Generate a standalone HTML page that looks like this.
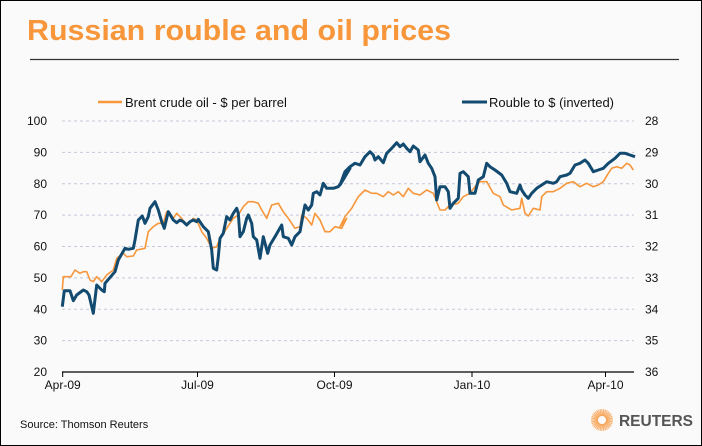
<!DOCTYPE html>
<html><head><meta charset="utf-8"><style>
html,body{margin:0;padding:0}
body{width:702px;height:446px;overflow:hidden;background:#fafafa;font-family:"Liberation Sans",sans-serif}
#f{position:absolute;left:0;top:0;width:700px;height:444px;border:1px solid #000;background:#fafafa}
</style></head><body><div id="f"></div>
<svg id="s" width="702" height="446" style="position:absolute;left:0;top:0" font-family="Liberation Sans, sans-serif">
<text x="27" y="40" font-size="29" font-weight="bold" fill="#f7963a" textLength="424" lengthAdjust="spacingAndGlyphs">Russian rouble and oil prices</text>
<line x1="30" y1="59.5" x2="679" y2="59.5" stroke="#333" stroke-width="1.2"/>
<line x1="98" y1="102" x2="122" y2="102" stroke="#f7963a" stroke-width="2.5"/>
<text x="125" y="107" font-size="13" fill="#111">Brent crude oil - $ per barrel</text>
<line x1="462" y1="102" x2="487" y2="102" stroke="#124a70" stroke-width="3"/>
<text x="489" y="107" font-size="13" fill="#111">Rouble to $ (inverted)</text>
<g id="grid"></g>
<path id="po" fill="none" stroke="#f7963a" stroke-width="1.6" stroke-linejoin="round"/>
<path id="pb" fill="none" stroke="#124a70" stroke-width="3" stroke-linejoin="round"/>
<line x1="62" y1="372" x2="634" y2="372" stroke="#000" stroke-width="1.2"/>
<text x="20" y="428" font-size="11" fill="#111">Source: Thomson Reuters</text>
<g transform="translate(602,420)" id="logo"></g>
<text x="619" y="426" font-size="16" font-weight="bold" fill="#555" textLength="74" lengthAdjust="spacingAndGlyphs">REUTERS</text>
</svg>
<script>
var ns="http://www.w3.org/2000/svg",g=document.getElementById("grid");
function el(t,a,p){var e=document.createElementNS(ns,t);for(var k in a)e.setAttribute(k,a[k]);(p||g).appendChild(e);return e;}
for(var i=0;i<=8;i++){var y=121+i*31.375,v=100-i*10,r=28+i;
 if(i<8)el("line",{x1:62,x2:634,y1:y,y2:y,stroke:"#c5c8dc","stroke-dasharray":"3,3"});
 var t=el("text",{x:47,y:y+4,"font-size":12,"text-anchor":"end",fill:"#111"});t.textContent=v;
 var t2=el("text",{x:645,y:y+4,"font-size":12,fill:"#111"});t2.textContent=r;}
var tk=[[62.7,"Apr-09"],[197.5,"Jul-09"],[334.5,"Oct-09"],[472,"Jan-10"],[605.5,"Apr-10"]];
tk.forEach(function(a){el("line",{x1:a[0],x2:a[0],y1:372,y2:377,stroke:"#000"});var t=el("text",{x:a[0],y:389,"font-size":12,"text-anchor":"middle",fill:"#111"});t.textContent=a[1];});
var lg=document.getElementById("logo");
for(var k=0;k<36;k++){var an=k*Math.PI/18;el("line",{x1:4*Math.cos(an),y1:4*Math.sin(an),x2:11*Math.cos(an),y2:11*Math.sin(an),stroke:"#f7963a","stroke-width":1.1,opacity:0.75},lg);}
function P(a,ox,oy){return a.map(function(p){return [ox+p[0]/3,oy+p[1]/3];});}
var b1=[[22,530],[28,482],[45,482],[55,512],[65,495],[85,480],[95,485],[102,495],[115,550],[125,465],[140,480],[148,485],[150,460],[180,425],[190,390],[210,355],[220,358],[235,355],[240,330],[250,270],[262,258],[270,280],[280,260],[285,235],[300,215],[310,240],[320,275],[328,295],[340,245],[355,270],[365,278],[375,270],[385,275],[395,285],[405,275],[415,270],[425,275],[430,268],[445,290],[460,305],[470,360],[475,415],[485,420],[490,380],[495,325],[505,310],[515,260],[525,270],[535,250],[545,235],[550,250],[555,320],[565,305],[575,265],[580,255],[590,280],[595,320],[605,330],[615,385],[625,320],[630,340],[638,370],[645,345],[660,320],[680,285],[685,320],[700,325],[710,345],[720,320],[735,305],[745,250],[750,225],[760,240],[770,225],[775,190],[785,185],[795,195],[805,160],[815,175],[835,175],[850,170],[860,155],[870,125],[885,115]];
var b2=[[0,165],[15,125],[30,110],[45,100],[60,105],[75,80],[90,65],[100,75],[105,90],[115,80],[130,98],[140,70],[155,55],[170,38],[180,50],[190,42],[200,55],[210,65],[220,48],[235,60],[240,95],[255,75],[265,100],[275,115],[285,140],[290,210],[300,170],[315,170],[325,185],[330,235],[340,220],[355,205],[360,130],[370,125],[385,140],[390,190],[405,190],[415,150],[430,140],[440,100],[450,110],[465,120],[485,135],[500,160],[510,185],[530,190],[540,165],[545,180],[555,195],[565,205],[575,190],[590,175],[605,165],[620,155],[640,160],[650,155],[660,140],[680,135],[690,130],[705,105],[720,100],[735,90],[745,100],[760,125],[775,120],[790,115],[805,100],[825,85],[840,70],[855,70],[870,75],[885,80]];
var o1=[[22,480],[25,440],[48,440],[60,420],[75,430],[85,425],[95,425],[105,450],[115,455],[125,440],[140,455],[155,435],[175,420],[185,385],[205,370],[215,380],[235,378],[245,360],[270,355],[280,305],[295,290],[310,280],[325,280],[335,245],[345,250],[355,265],[365,250],[380,265],[390,278],[400,283],[415,265],[425,270],[440,305],[455,325],[470,355],[485,350],[495,325],[515,295],[535,265],[550,255],[565,230],[580,215],[595,215],[610,220],[620,240],[635,265],[650,225],[670,220],[685,245],[700,265],[720,295],[735,290],[740,255],[755,265],[770,285],[780,250],[795,270],[810,305],[825,305],[840,290],[860,295],[875,265]];
var o2=[[0,290],[15,260],[35,235],[55,200],[75,180],[95,190],[110,190],[130,200],[145,185],[160,195],[175,185],[190,200],[205,175],[220,190],[240,195],[260,180],[280,190],[300,240],[315,240],[330,225],[355,220],[370,200],[390,190],[405,170],[420,155],[440,155],[460,190],[480,200],[490,225],[515,240],[540,235],[545,205],[555,250],[565,258],[580,235],[600,240],[605,200],[620,185],[640,185],[660,175],[680,160],[700,155],[720,170],[740,160],[760,170],[775,165],[790,155],[805,130],[815,115],[830,110],[845,115],[860,100],[870,105],[880,120]];
function d(a){return "M"+a.map(function(p){return p[0].toFixed(1)+","+p[1].toFixed(1);}).join("L");}
document.getElementById("pb").setAttribute("d",d(P(b1,55,130).concat(P(b2,340,130))));
document.getElementById("po").setAttribute("d",d(P(o1,55,130).concat(P(o2,340,130))));
</script>
</body></html>
